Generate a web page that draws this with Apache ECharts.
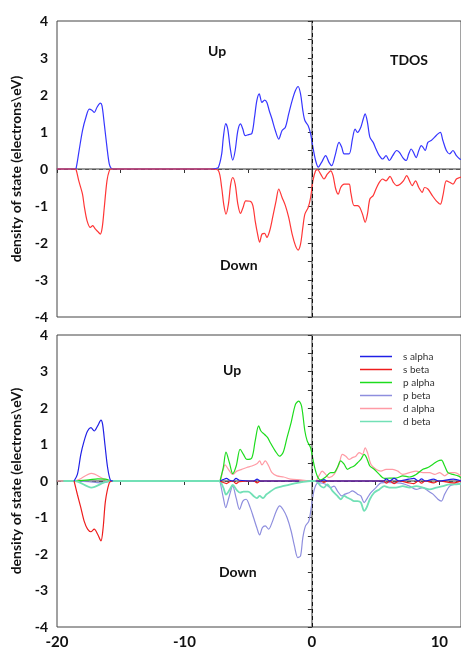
<!DOCTYPE html>
<html>
<head>
<meta charset="utf-8">
<script src="https://cdn.jsdelivr.net/npm/echarts@6/dist/echarts.min.js"></script>
<style>
  html, body { margin: 0; padding: 0; background: #fff; }
  #chart { width: 461px; height: 659px; }
</style>
</head>
<body>
<div id="chart"></div>
<script>
// x ticks every 5 eV, labels only on the decades (bottom panel)
const xTicks = [-20, -10, 0, 10];

// ---- top panel: total DOS ----
const tdosUp = [
  [-20,0],[-18.6,0],[-18.5,0.02],[-18.27,0.49],[-18.0,1.04],[-17.73,1.40],[-17.47,1.62],[-17.26,1.59],
  [-17.07,1.53],[-16.86,1.67],[-16.6,1.78],[-16.47,1.71],[-16.29,1.22],[-16.08,0.59],[-15.9,0.14],
  [-15.75,0.02],[-15.6,0],[-7.9,0],[-7.6,0.01],[-7.34,0.04],[-7.08,0.4],[-6.95,0.85],[-6.76,1.23],
  [-6.6,1.08],[-6.42,0.59],[-6.21,0.24],[-6.02,0.5],[-5.81,1.04],[-5.6,1.22],[-5.42,1.08],[-5.23,0.9],
  [-4.97,0.93],[-4.71,0.96],[-4.5,1.4],[-4.32,1.85],[-4.13,2.03],[-3.92,1.8],[-3.71,1.86],[-3.53,1.8],
  [-3.35,1.58],[-3.13,1.35],[-2.87,1.04],[-2.6,0.81],[-2.34,1.04],[-2.08,1.13],[-1.82,1.49],[-1.55,1.85],
  [-1.29,2.12],[-1.08,2.23],[-0.89,2.03],[-0.71,1.58],[-0.55,1.31],[-0.29,1.17],[-0.1,0.95],[0.08,0.59],
  [0.29,0.23],[0.5,0.05],[0.76,0.18],[1.08,0.36],[1.34,0.18],[1.55,0.09],[1.82,0.36],[2.13,0.72],
  [2.34,0.59],[2.53,0.41],[2.92,0.41],[3.18,0.81],[3.39,1.08],[3.58,0.99],[3.84,1.13],[4.03,1.35],
  [4.18,1.49],[4.36,1.26],[4.55,0.86],[4.81,0.72],[5.03,0.54],[5.29,0.36],[5.55,0.27],[5.82,0.36],
  [6.08,0.23],[6.34,0.36],[6.65,0.5],[6.87,0.45],[7.13,0.31],[7.4,0.23],[7.6,0.41],[7.79,0.54],
  [7.97,0.45],[8.18,0.31],[8.39,0.5],[8.58,0.63],[8.71,0.59],[8.89,0.5],[9.1,0.72],[9.36,0.77],
  [9.63,0.86],[9.89,0.95],[10.08,0.99],[10.28,0.77],[10.55,0.5],[10.81,0.41],[11.07,0.5],[11.34,0.36],
  [11.6,0.27],[11.7,0.26]
];
const tdosDown = [
  [-20,0],[-18.6,0],[-18.5,-0.02],[-18.3,-0.31],[-18.0,-0.68],[-17.85,-1.03],[-17.64,-1.40],[-17.38,-1.58],
  [-17.2,-1.53],[-17.0,-1.62],[-16.8,-1.69],[-16.6,-1.76],[-16.45,-1.58],[-16.29,-1.04],[-16.08,-0.32],
  [-15.9,-0.05],[-15.75,0],[-7.9,0],[-7.34,-0.04],[-7.08,-0.5],[-6.92,-0.95],[-6.74,-1.22],[-6.55,-0.95],
  [-6.37,-0.41],[-6.21,-0.23],[-6.02,-0.41],[-5.81,-0.95],[-5.6,-1.2],[-5.4,-1.04],[-5.19,-0.86],
  [-4.84,-0.87],[-4.63,-0.99],[-4.45,-1.4],[-4.26,-1.76],[-4.1,-1.98],[-3.92,-1.76],[-3.71,-1.74],
  [-3.53,-1.85],[-3.31,-1.67],[-3.08,-1.31],[-2.81,-0.86],[-2.6,-0.54],[-2.34,-0.77],[-2.08,-0.99],
  [-1.82,-1.31],[-1.55,-1.76],[-1.29,-2.07],[-1.08,-2.19],[-0.89,-2.03],[-0.71,-1.58],[-0.55,-1.22],
  [-0.29,-1.04],[-0.1,-0.77],[0.08,-0.32],[0.29,-0.05],[0.45,-0.02],[0.69,-0.14],[0.95,-0.27],
  [1.21,-0.14],[1.47,-0.05],[1.66,-0.18],[1.87,-0.54],[2.07,-0.68],[2.26,-0.5],[2.53,-0.41],[2.92,-0.41],
  [3.05,-0.63],[3.31,-0.99],[3.58,-0.99],[3.76,-1.04],[3.97,-1.22],[4.18,-1.44],[4.36,-1.22],[4.55,-0.81],
  [4.81,-0.72],[5.03,-0.54],[5.29,-0.36],[5.55,-0.27],[5.82,-0.32],[6.13,-0.2],[6.39,-0.36],[6.65,-0.45],
  [6.92,-0.41],[7.18,-0.32],[7.44,-0.18],[7.66,-0.32],[7.87,-0.45],[8.13,-0.32],[8.39,-0.5],[8.66,-0.63],
  [8.84,-0.5],[9.1,-0.54],[9.45,-0.72],[9.76,-0.86],[10.08,-0.95],[10.28,-0.72],[10.55,-0.32],
  [10.81,-0.36],[11.07,-0.41],[11.34,-0.27],[11.6,-0.23],[11.7,-0.22]
];

// ---- bottom panel: partial DOS (null = no line drawn there) ----
const sAlpha = [
  [-18.66,0],[-18.4,0.18],[-18.13,0.73],[-17.87,1.1],[-17.6,1.37],[-17.34,1.46],[-17.08,1.37],
  [-16.81,1.51],[-16.55,1.67],[-16.42,1.55],[-16.24,1.0],[-16.03,0.37],[-15.81,0.02],[-15.6,0],[-12,null],
  [-7.2,0],[-6.95,0.04],[-6.7,0.07],[-6.45,0.02],[-6.2,0],[-5.95,0.07],[-5.7,0.02],[-4.55,0],[-4.3,0.05],
  [-4.05,0],[-1.0,0],[-0.5,null],[0.3,0],[0.7,0],[0.95,0.04],[1.2,0],[5.6,0],[5.85,0.06],[6.1,0],[6.45,0.07],
  [6.85,0],[7.6,0.05],[8.0,0.07],[8.35,0],[8.6,0.06],[8.9,0],[9.55,0.05],[9.95,0],[11.1,0.05],[11.7,0]
];
const sBeta = [
  [-18.66,0],[-18.4,-0.37],[-18.13,-0.73],[-17.87,-1.1],[-17.6,-1.32],[-17.34,-1.39],[-17.08,-1.32],
  [-16.81,-1.46],[-16.55,-1.64],[-16.38,-1.28],[-16.2,-0.55],[-15.9,-0.05],[-15.7,0],[-12,null],
  [-7.2,0],[-6.95,-0.04],[-6.7,-0.07],[-6.45,-0.02],[-6.2,0],[-5.95,-0.07],[-5.7,-0.02],[-4.55,0],[-4.3,-0.05],
  [-4.05,0],[-1.0,0],[-0.5,null],[0.3,0],[0.7,0],[0.95,-0.04],[1.2,0],[5.6,0],[5.85,-0.06],[6.1,0],[6.45,-0.07],
  [6.85,0],[7.6,-0.05],[8.0,-0.07],[8.35,0],[8.6,-0.06],[8.9,0],[9.55,-0.05],[9.95,0],[11.1,-0.05],[11.7,0]
];
const pAlpha = [
  [-18.6,0],[-17.5,0.03],[-16.8,0.06],[-16.2,0.05],[-15.8,0],[-12,null],[-7.21,0],[-6.95,0.37],[-6.74,0.79],
  [-6.47,0.5],[-6.21,0.2],[-5.94,0.41],[-5.63,0.87],[-5.37,0.73],[-5.11,0.59],[-4.71,0.64],[-4.45,1.1],
  [-4.18,1.51],[-4.0,1.37],[-3.73,1.28],[-3.47,1.19],[-3.26,1.05],[-2.87,0.82],[-2.53,0.68],[-2.26,0.78],
  [-1.95,1.19],[-1.63,1.6],[-1.29,2.1],[-1.03,2.19],[-0.81,2.05],[-0.55,1.37],[-0.37,1.1],[-0.1,0.91],
  [0.16,0.46],[0.42,0.14],[0.69,0.03],[1.08,0.11],[1.47,0.23],[1.74,0.23],[2.0,0.37],[2.26,0.55],
  [2.53,0.46],[2.79,0.32],[3.05,0.37],[3.31,0.41],[3.58,0.5],[3.84,0.59],[4.1,0.73],[4.29,0.64],
  [4.55,0.41],[4.89,0.32],[5.29,0.18],[5.68,0.07],[6.08,0.08],[6.6,0.08],[7.13,0.14],[7.66,0.11],
  [8.18,0.18],[8.71,0.32],[9.1,0.37],[9.5,0.46],[9.89,0.55],[10.16,0.57],[10.42,0.41],[10.68,0.23],
  [11.07,0.18],[11.47,0.14],[11.7,0.09]
];
const pBeta = [
  [-18.6,0],[-17.5,-0.02],[-16.6,-0.05],[-16.1,-0.03],[-15.8,0],[-12,null],[-7.21,0],[-6.95,-0.46],
  [-6.76,-0.73],[-6.55,-0.5],[-6.21,-0.14],[-5.94,-0.47],[-5.68,-0.78],[-5.42,-0.55],[-5.16,-0.5],
  [-4.84,-0.73],[-4.58,-1.0],[-4.32,-1.28],[-4.1,-1.48],[-3.89,-1.28],[-3.66,-1.23],[-3.39,-1.32],
  [-3.13,-1.14],[-2.79,-0.82],[-2.53,-0.68],[-2.26,-0.78],[-1.95,-1.0],[-1.63,-1.37],[-1.37,-1.78],
  [-1.1,-2.1],[-0.89,-2.05],[-0.71,-1.55],[-0.5,-1.23],[-0.24,-1.1],[-0.05,-0.73],[0.16,-0.27],
  [0.42,-0.06],[0.69,-0.05],[1.08,-0.09],[1.47,-0.18],[1.74,-0.14],[2.0,-0.27],[2.34,-0.41],[2.6,-0.36],
  [2.92,-0.32],[3.18,-0.27],[3.58,-0.36],[3.84,-0.41],[4.1,-0.59],[4.36,-0.46],[4.63,-0.32],[5.03,-0.18],
  [5.42,-0.05],[5.82,-0.04],[6.6,-0.05],[7.13,-0.07],[7.66,-0.14],[8.18,-0.23],[8.71,-0.18],[9.1,-0.27],
  [9.5,-0.36],[9.89,-0.5],[10.16,-0.55],[10.42,-0.36],[10.81,-0.14],[11.2,-0.09],[11.7,-0.07]
];
const dAlpha = [
  [-20,0],[-18.6,0],[-17.3,0.21],[-16.3,0.05],[-15.8,0],[-7.3,0],[-7.0,0.27],[-6.81,0.44],[-6.55,0.32],
  [-6.21,0.18],[-5.89,0.27],[-5.5,0.32],[-5.11,0.37],[-4.71,0.41],[-4.32,0.47],[-4.1,0.55],[-3.92,0.44],
  [-3.66,0.55],[-3.39,0.41],[-3.13,0.23],[-2.74,0.14],[-2.21,0.11],[-1.68,0.05],[-0.89,0.03],[-0.1,0],
  [0.29,0],[0.55,0.14],[0.81,0.27],[1.08,0.18],[1.34,0.09],[1.74,0.18],[2.13,0.46],[2.39,0.73],
  [2.66,0.68],[2.92,0.59],[3.18,0.64],[3.45,0.68],[3.71,0.78],[3.97,0.73],[4.18,0.91],[4.36,0.78],
  [4.63,0.46],[5.03,0.32],[5.42,0.27],[5.82,0.32],[6.34,0.32],[6.74,0.27],[7.13,0.18],[7.66,0.23],
  [8.18,0.27],[8.71,0.23],[9.24,0.23],[9.63,0.18],[10.03,0.23],[10.42,0.14],[10.81,0.23],[11.2,0.23],
  [11.7,0.14]
];
const dBeta = [
  [-19.5,0],[-18.6,0],[-17.3,-0.18],[-16.3,-0.04],[-15.8,0],[-7.3,0],[-6.95,-0.18],[-6.74,-0.37],
  [-6.47,-0.25],[-6.21,-0.11],[-5.89,-0.25],[-5.63,-0.32],[-5.37,-0.29],[-5.0,-0.29],[-4.58,-0.41],
  [-4.32,-0.47],[-4.1,-0.41],[-3.84,-0.47],[-3.58,-0.37],[-3.26,-0.29],[-2.87,-0.2],[-2.35,-0.15],
  [-1.68,-0.09],[-0.89,-0.04],[-0.1,0],[0.29,0],[0.69,-0.14],[0.95,-0.18],[1.21,-0.09],[1.61,-0.27],
  [2.0,-0.41],[2.26,-0.5],[2.53,-0.41],[2.79,-0.46],[3.05,-0.5],[3.31,-0.55],[3.58,-0.55],[3.84,-0.59],
  [4.1,-0.82],[4.29,-0.73],[4.55,-0.5],[4.89,-0.32],[5.29,-0.23],[5.68,-0.14],[6.08,-0.18],[6.6,-0.18],
  [7.13,-0.14],[7.66,-0.18],[8.18,-0.14],[8.71,-0.18],[9.24,-0.23],[9.76,-0.18],[10.29,-0.14],
  [10.81,-0.09],[11.34,-0.09],[11.7,-0.08]
];

const font = 'Lato, "Open Sans", sans-serif';
const axisGray = '#7a7a7a';

const chart = echarts.init(document.getElementById('chart'), null, { renderer: 'canvas' });

function makeX(gridIndex, showLabels) {
  return {
    gridIndex: gridIndex,
    type: 'value',
    min: -20,
    max: 11.7,
    interval: 5,
    splitLine: { show: false },
    axisLine: { lineStyle: { color: axisGray, width: 1.5 } },
    axisTick: { inside: false, length: 4, lineStyle: { color: '#333' } },
    axisLabel: {
      show: showLabels,
      showMaxLabel: false,
      margin: 8,
      fontFamily: font, fontWeight: 'bold', fontSize: 15, color: '#111',
      formatter: (v) => xTicks.includes(v) ? String(v) : ''
    }
  };
}

function makeY(gridIndex) {
  return {
    gridIndex: gridIndex,
    type: 'value',
    min: -4,
    max: 4,
    interval: 1,
    name: 'density of state (electrons\\eV)',
    nameLocation: 'middle',
    nameGap: 30,
    nameTextStyle: { fontFamily: font, fontSize: 14, fontWeight: 'bold', color: '#111' },
    splitLine: { show: false },
    axisLine: { lineStyle: { color: axisGray, width: 1.5 } },
    axisTick: { length: 4, lineStyle: { color: '#333' } },
    minorTick: { show: true, splitNumber: 2, length: 4, lineStyle: { color: '#333' } },
    axisLabel: { margin: 9, fontFamily: font, fontWeight: 'bold', fontSize: 14, color: '#111' }
  };
}

function curve(name, data, color, g, width, z) {
  return {
    name: name, type: 'line', data: data,
    xAxisIndex: g, yAxisIndex: g,
    color: color, symbol: 'none', smooth: 0.3, connectNulls: false,
    lineStyle: { color: color, width: width || 1.2 },
    z: z || 3
  };
}

// dashed guides: Fermi level (on top of curves) and zero line (under curves)
function guides(g) {
  return [{
    type: 'line', data: [], xAxisIndex: g, yAxisIndex: g, z: 6,
    markLine: {
      silent: true, symbol: 'none', label: { show: false }, z: 6,
      lineStyle: { color: '#111', type: [4, 3], width: 1 },
      data: [{ xAxis: 0 }]
    }
  }, {
    type: 'line', data: [], xAxisIndex: g, yAxisIndex: g, z: 1,
    markLine: {
      silent: true, symbol: 'none', label: { show: false }, z: 1,
      lineStyle: { color: '#555', type: [4, 3], width: 1 },
      data: [{ yAxis: 0 }]
    }
  }];
}

function label(text, x, y) {
  return {
    type: 'text', left: x, top: y,
    style: { text: text, fill: '#111', font: 'bold 14px ' + font, textAlign: 'center', textVerticalAlign: 'middle' }
  };
}

const opt = {
  animation: false,
  backgroundColor: '#fff',
  grid: [
    { left: 57, right: -2, top: 21, height: 296, show: true, borderColor: '#444', borderWidth: 1 },
    { left: 57, right: -2, top: 335, height: 292, show: true, borderColor: '#444', borderWidth: 1 }
  ],
  xAxis: [makeX(0, false), makeX(1, true)],
  yAxis: [makeY(0), makeY(1)],
  legend: {
    data: ['s alpha', 's beta', 'p alpha', 'p beta', 'd alpha', 'd beta'],
    orient: 'vertical',
    left: 355, top: 346,
    icon: 'rect',
    itemWidth: 32, itemHeight: 1.5, itemGap: 2,
    textStyle: { fontFamily: font, fontSize: 10, lineHeight: 11, color: '#333', padding: [0, 0, 0, 6] }
  },
  graphic: [
    label('Up', 208, 44),
    label('TDOS', 390, 53),
    label('Down', 220, 258),
    label('Up', 223, 363),
    label('Down', 219, 565)
  ],
  series: [
    ...guides(0),
    curve('Up', tdosUp, '#3636ff', 0),
    curve('Down', tdosDown, '#ff3636', 0),
    ...guides(1),
    curve('d alpha', dAlpha, '#ff9ba5', 1, 1.2, 3),
    curve('p beta', pBeta, '#8e8ede', 1, 1.2, 3),
    curve('p alpha', pAlpha, '#1ddc1d', 1, 1.2, 3),
    curve('d beta', dBeta, '#72e0b6', 1, 1.8, 4),
    curve('s beta', sBeta, '#ee1c1c', 1, 1.2, 5),
    curve('s alpha', sAlpha, '#2020e6', 1, 1.2, 5)
  ]
};

chart.setOption(opt);
</script>
</body>
</html>
